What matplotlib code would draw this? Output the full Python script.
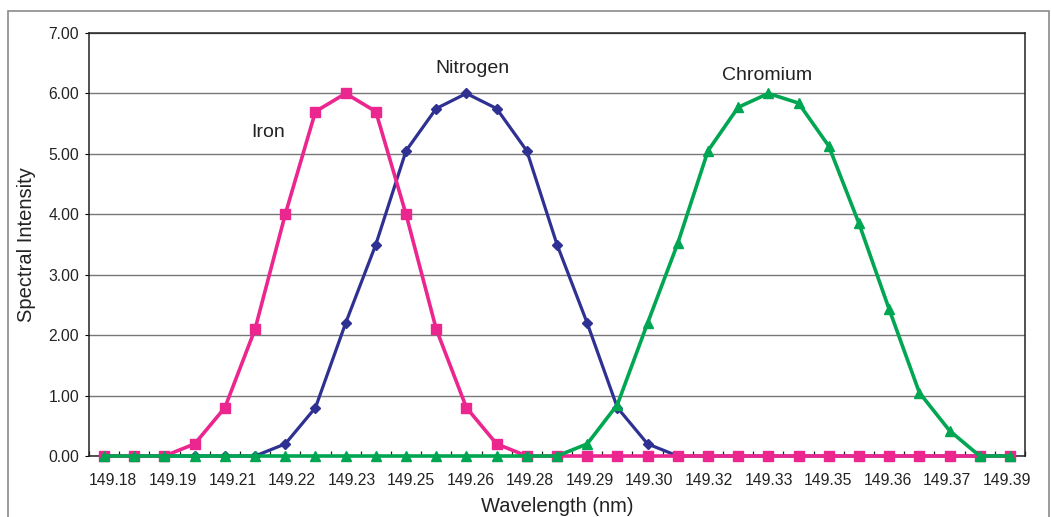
import numpy as np
import matplotlib.pyplot as plt
from matplotlib.patches import Rectangle

plt.rcParams['font.family'] = ['Liberation Sans', 'DejaVu Sans']

# 31 wavelength samples (category axis), labels shown on every other one
tick_labels = ['149.18', '149.19', '149.21', '149.22', '149.23', '149.25',
               '149.26', '149.28', '149.29', '149.30', '149.32', '149.33',
               '149.35', '149.36', '149.37', '149.39']

iron = [0, 0, 0, 0.2, 0.8, 2.1, 4.0, 5.7, 6.0, 5.7, 4.0, 2.1, 0.8, 0.2, 0,
        0, 0, 0, 0, 0, 0, 0, 0, 0, 0, 0, 0, 0, 0, 0, 0]
nitrogen = [0, 0, 0, 0, 0, 0, 0.2, 0.8, 2.2, 3.5, 5.05, 5.75, 6.0, 5.75, 5.05,
            3.5, 2.2, 0.8, 0.2, 0, 0, 0, 0, 0, 0, 0, 0, 0, 0, 0, 0]
chromium = [0, 0, 0, 0, 0, 0, 0, 0, 0, 0, 0, 0, 0, 0, 0,
            0, 0.2, 0.85, 2.2, 3.52, 5.05, 5.77, 6.0, 5.84, 5.13, 3.85, 2.43,
            1.05, 0.42, 0, 0]

x = np.arange(len(iron))

fig = plt.figure(figsize=(10.51, 5.17), dpi=100)
ax = fig.add_axes([89/1051, 1 - 456/517, 936/1051, 423/517])

# outer frame around the chart
fig.patches.append(Rectangle((7.5/1051, -0.05), 1041.5/1051, 1 - 11/517 + 0.05,
                             transform=fig.transFigure, fill=False,
                             edgecolor='#8a8a8a', linewidth=1.2))

ax.plot(x, nitrogen, color='#2E3192', lw=2.3, marker='D', ms=5.3, zorder=3, clip_on=False)
ax.plot(x, iron, color='#EC268F', lw=2.6, marker='s', ms=6.6, zorder=4, clip_on=False)
ax.plot(x, chromium, color='#00A651', lw=2.6, marker='^', ms=7, zorder=5, clip_on=False)

ax.text(5.44, 5.28, 'Iron', fontsize=14, ha='center', va='baseline', color='#222222')
ax.text(12.2, 6.34, 'Nitrogen', fontsize=14, ha='center', va='baseline', color='#222222')
ax.text(21.97, 6.23, 'Chromium', fontsize=14, ha='center', va='baseline', color='#222222')

ax.set_xlim(-0.5, len(x) - 0.5)
ax.set_ylim(0, 7)
ax.set_yticks(np.arange(0, 8, 1))
ax.set_yticklabels([f'{v:.2f}' for v in np.arange(0, 8, 1)])
ax.grid(axis='y', color='#777777', lw=1.0)
ax.set_axisbelow(True)

ax.set_xticks(np.linspace(0.3, 29.9, len(tick_labels)))
ax.set_xticklabels(tick_labels)
ax.set_xticks(np.arange(-0.5, len(x), 1), minor=True)
ax.tick_params(axis='x', which='major', length=0, pad=12, labelsize=11.3, labelcolor='#222222')
ax.tick_params(axis='x', which='minor', direction='in', length=3.5, width=0.9, color='#222222')
ax.tick_params(axis='y', length=3, pad=4, labelsize=11.3, labelcolor='#222222')

for s in ax.spines.values():
    s.set_color('#222222')
    s.set_linewidth(1.1)

ax.set_xlabel('Wavelength (nm)', fontsize=14.5, color='#222222')
ax.xaxis.set_label_coords(0.5, -0.098)
ax.set_ylabel('Spectral Intensity', fontsize=14.5, color='#222222')
ax.yaxis.set_label_coords(-0.057, 0.5)

fig.savefig('out.png', dpi=100)
